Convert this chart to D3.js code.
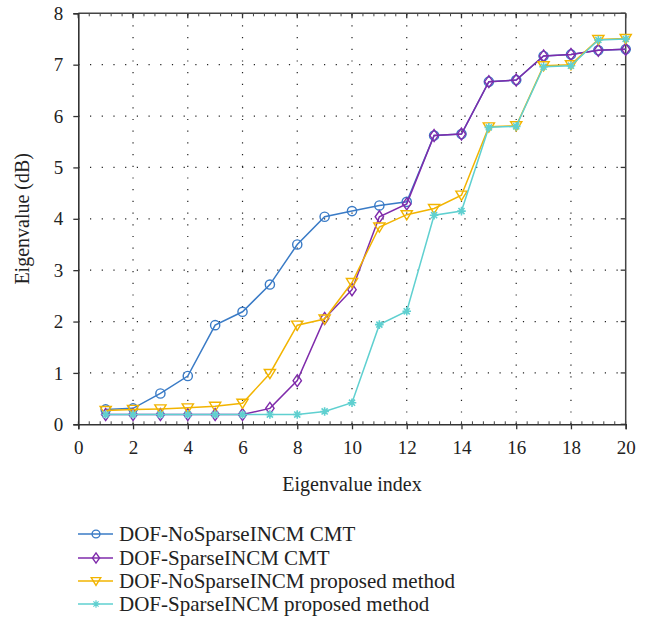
<!DOCTYPE html>
<html><head><meta charset="utf-8">
<script src="https://cdn.jsdelivr.net/npm/d3@7"></script>
<style>body{margin:0;background:#fff}svg{display:block}svg text{font-family:"Liberation Serif","DejaVu Serif",serif !important;fill:#222}</style>
</head><body><svg id="c" width="650" height="618"></svg>
<script>
const xIndex = [1,2,3,4,5,6,7,8,9,10,11,12,13,14,15,16,17,18,19,20];
const noSparseCMT = [0.29,0.31,0.60,0.94,1.93,2.19,2.72,3.50,4.04,4.15,4.26,4.33,5.62,5.65,6.67,6.70,7.17,7.20,7.28,7.30];
const sparseCMT = [0.19,0.19,0.19,0.19,0.19,0.19,0.31,0.85,2.06,2.62,4.04,4.29,5.62,5.65,6.67,6.70,7.17,7.20,7.28,7.30];
const noSparseProposed = [0.27,0.29,0.30,0.32,0.35,0.41,0.99,1.93,2.05,2.76,3.84,4.08,4.20,4.46,5.79,5.81,6.98,7.00,7.49,7.51];
const sparseProposed = [0.19,0.19,0.19,0.19,0.19,0.19,0.19,0.19,0.25,0.42,1.94,2.20,4.07,4.15,5.78,5.80,6.96,6.98,7.48,7.50];
const seriesNames = ["DOF-NoSparseINCM CMT","DOF-SparseINCM CMT","DOF-NoSparseINCM proposed method","DOF-SparseINCM proposed method"];
const xTicks = [0,2,4,6,8,10,12,14,16,18,20];
const yTicks = [0,1,2,3,4,5,6,7,8];

const colors = ["#3a7bc6","#7f2bab","#f2b400","#5fd0d0"];
const markers = ["circle","diamond","triangle","asterisk"];
const data = [noSparseCMT, sparseCMT, noSparseProposed, sparseProposed];
const FONT = "'Liberation Serif','DejaVu Serif',serif";

const svg = d3.select("#c");
const L=78.3, R=625.7, T=13.3, B=424.3;
const x = d3.scaleLinear().domain([0,20]).range([L,R]);
const y = d3.scaleLinear().domain([0,8]).range([B,T]);

// grid
const g = svg.append("g");
g.selectAll(".gx").data(xTicks.filter(d=>d>0&&d<20)).enter().append("line")
  .attr("x1",d=>x(d)).attr("x2",d=>x(d)).attr("y1",B).attr("y2",T)
  .attr("stroke","#222").attr("stroke-width",1.2).attr("stroke-dasharray","1.2,10.5");
g.selectAll(".gy").data(yTicks.filter(d=>d>0&&d<8)).enter().append("line")
  .attr("x1",L).attr("x2",R).attr("y1",d=>y(d)).attr("y2",d=>y(d))
  .attr("stroke","#222").attr("stroke-width",1.2).attr("stroke-dasharray","1.2,10.5");

// minor ticks
const minorX = d3.range(0,20.01,0.4);
svg.selectAll(".mxb").data(minorX).enter().append("line")
  .attr("x1",d=>x(d)).attr("x2",d=>x(d)).attr("y1",B).attr("y2",B-3).attr("stroke","#444").attr("stroke-width",1);
svg.selectAll(".mxt").data(minorX).enter().append("line")
  .attr("x1",d=>x(d)).attr("x2",d=>x(d)).attr("y1",T).attr("y2",T+3).attr("stroke","#444").attr("stroke-width",1);
svg.selectAll(".ryt").data(yTicks).enter().append("line")
  .attr("x1",R).attr("x2",R-5).attr("y1",d=>y(d)).attr("y2",d=>y(d)).attr("stroke","#333").attr("stroke-width",1.3);
svg.selectAll(".txt").data(xTicks).enter().append("line")
  .attr("x1",d=>x(d)).attr("x2",d=>x(d)).attr("y1",T).attr("y2",T+5).attr("stroke","#333").attr("stroke-width",1.3);

svg.append("line").attr("x1",L).attr("x2",R).attr("y1",T).attr("y2",T).attr("stroke","#444").attr("stroke-width",1.5);
svg.append("line").attr("x1",R).attr("x2",R).attr("y1",T).attr("y2",B).attr("stroke","#444").attr("stroke-width",1.5);

const xAxis = svg.append("g").attr("transform",`translate(0,${B})`)
  .call(d3.axisBottom(x).tickValues(xTicks).tickSize(5).tickPadding(11).tickFormat(d3.format("d")));
const yAxis = svg.append("g").attr("transform",`translate(${L},0)`)
  .call(d3.axisLeft(y).tickValues(yTicks).tickSize(5).tickPadding(10).tickFormat(d3.format("d")));
[xAxis,yAxis].forEach(a=>{
  a.attr("font-family",FONT).attr("font-size",19);
  a.select(".domain").attr("stroke","#333").attr("stroke-width",1.6);
  a.selectAll(".tick line").attr("stroke","#333").attr("stroke-width",1.3);
  a.selectAll("text").style("font-family",FONT).attr("font-size",19).attr("fill","#222");
});

function drawMarker(sel, type, color, s){
  if(type==="circle") sel.append("circle").attr("r",4.6*s).attr("fill","none").attr("stroke",color).attr("stroke-width",1.4);
  else if(type==="diamond") sel.append("path").attr("d",`M0,${-6*s}L${4.2*s},0L0,${6*s}L${-4.2*s},0Z`).attr("fill","none").attr("stroke",color).attr("stroke-width",1.4);
  else if(type==="triangle") sel.append("path").attr("d",`M${-5.6*s},${-4*s}L${5.6*s},${-4*s}L0,${5.2*s}Z`).attr("fill","none").attr("stroke",color).attr("stroke-width",1.4);
  else {
    const r=4.3*s;
    const p = [];
    for(let k=0;k<4;k++){const a=k*Math.PI/4; p.push(`M${-r*Math.cos(a)},${-r*Math.sin(a)}L${r*Math.cos(a)},${r*Math.sin(a)}`);}
    sel.append("path").attr("d",p.join("")).attr("fill","none").attr("stroke",color).attr("stroke-width",s<1?1.2:1.6);
  }
}

const line = d3.line().x((d,i)=>x(xIndex[i])).y(d=>y(d));
data.forEach((vals,si)=>{
  const gs = svg.append("g");
  gs.append("path").datum(vals).attr("d",line).attr("fill","none").attr("stroke",colors[si]).attr("stroke-width",1.5);
  gs.selectAll(".m").data(vals).enter().append("g")
    .attr("transform",(d,i)=>`translate(${x(xIndex[i])},${y(d)})`)
    .each(function(){drawMarker(d3.select(this),markers[si],colors[si],1);});
});

svg.append("text").attr("x",(L+R)/2).attr("y",491).attr("text-anchor","middle").attr("font-size",20).style("font-family",FONT).text("Eigenvalue index");
svg.append("text").attr("transform",`translate(29,${(T+B)/2}) rotate(-90)`).attr("text-anchor","middle").attr("font-size",20).style("font-family",FONT).text("Eigenvalue (dB)");

const legY = [534,558,581,604];
const lg = svg.selectAll(".lg").data(seriesNames).enter().append("g").attr("transform",(d,i)=>`translate(0,${legY[i]})`);
lg.append("line").attr("x1",78).attr("x2",113).attr("y1",0).attr("y2",0).attr("stroke",(d,i)=>colors[i]).attr("stroke-width",1.5);
lg.each(function(d,i){ const m=d3.select(this).append("g").attr("transform","translate(96,0)"); drawMarker(m,markers[i],colors[i],0.85); });
lg.append("text").attr("x",119).attr("y",7).attr("font-size",21).style("font-family",FONT).text(d=>d);
</script></body></html>
